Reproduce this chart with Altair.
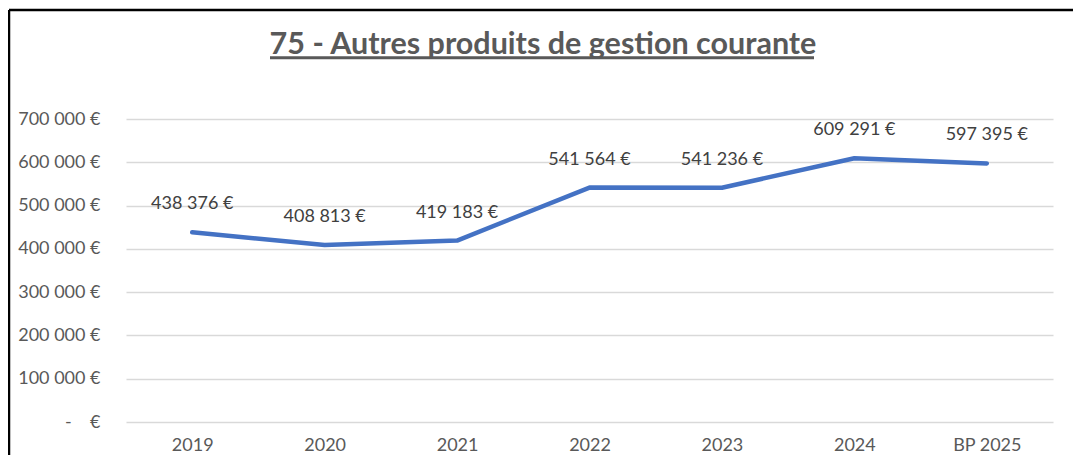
import altair as alt
import pandas as pd

categories = ["2019", "2020", "2021", "2022", "2023", "2024", "BP 2025"]
values = [438376, 408813, 419183, 541564, 541236, 609291, 597395]
y_ticks = [0, 100000, 200000, 300000, 400000, 500000, 600000, 700000]
title_text = "75 - Autres produits de gestion courante"

FONT = "Lato"
PW, PH = 927, 303

df = pd.DataFrame({"cat": categories, "val": values})
df["label"] = [f"{v:,}".replace(",", " ") + " €" for v in values]

x_enc = alt.X("cat:N", sort=categories,
              scale=alt.Scale(type="point", padding=0.5),
              axis=alt.Axis(title=None, labelAngle=0, labelFont=FONT, labelFontSize=18,
                            labelColor="#595959", labelPadding=14, ticks=False,
                            domain=False, grid=False))
y_enc = alt.Y("val:Q", scale=alt.Scale(domain=[0, 700000], nice=False),
              axis=alt.Axis(title=None, values=y_ticks, labelFont=FONT, labelFontSize=18,
                            labelColor="#595959", labelPadding=26, ticks=False,
                            domain=False, grid=True, gridColor="#D9D9D9", gridWidth=1.3,
                            labelExpr="datum.value == 0 ? '-\u00a0\u00a0\u00a0\u00a0€' : format(datum.value / 1000, 'd') + ' 000 €'"))

base = alt.Chart(df)

line = base.mark_line(color="#4472C4", strokeWidth=4.5, strokeCap="round",
                      strokeJoin="round").encode(x=x_enc, y=y_enc)

labels = base.mark_text(font=FONT, fontSize=18, color="#404040", baseline="middle",
                        align="center", dy=-28).encode(
    x=alt.X("cat:N", sort=categories), y=alt.Y("val:Q"), text="label:N")

one = alt.Chart(pd.DataFrame({"t": [title_text]}))

title = one.mark_text(font=FONT, fontSize=30.5, fontWeight="bold", color="#595959",
                      align="center", baseline="alphabetic").encode(
    x=alt.value(417), y=alt.value(-65.5), text="t:N")

underline = one.mark_rule(color="#595959", strokeWidth=3).encode(
    x=alt.value(144), x2=alt.value(688), y=alt.value(-61.3))

top_border = one.mark_rule(color="#000000", strokeWidth=2.5).encode(
    x=alt.value(-117), x2=alt.value(PW + 30), y=alt.value(-109))
left_border = one.mark_rule(color="#000000", strokeWidth=2.5).encode(
    x=alt.value(-117), y=alt.value(-109), y2=alt.value(PH + 40))

chart = alt.layer(line, labels, title, underline, top_border, left_border).properties(
    width=PW, height=PH,
    autosize=alt.AutoSizeParams(type="none"),
    padding={"left": 118, "top": 111, "right": 20, "bottom": 33},
    background="white",
).configure_view(stroke=None)

chart.save("out.html", embed_options={"renderer": "svg", "actions": False})
